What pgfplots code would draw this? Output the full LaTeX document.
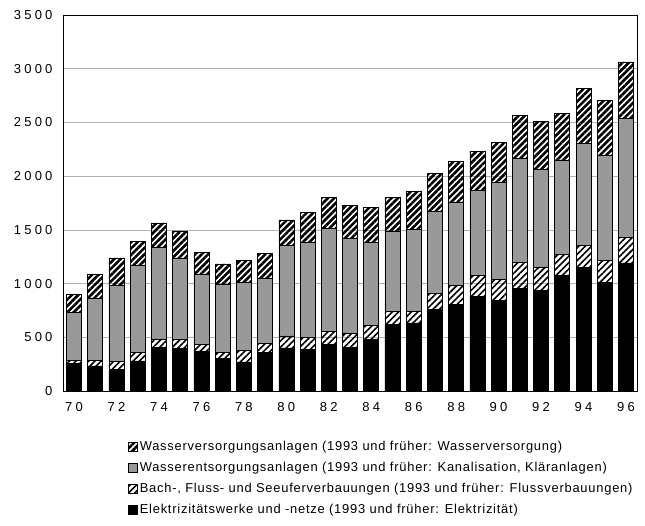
\documentclass[border=0pt]{standalone}
\usepackage{fontspec}
\setmainfont{Liberation Sans}
\newfontfamily\tickfont[LetterSpace=25]{Liberation Sans}
\newfontfamily\legfont[LetterSpace=6]{Liberation Sans}
\usepackage{pgfplots}
\pgfplotsset{compat=1.18}
\usepackage{pgfplotstable}
\usetikzlibrary{patterns.meta}

\pgfplotstableread{
year elek bach ents vers
70 255 30 445 170
71 233 53 581 220
72 202 74 709 254
73 280 83 805 223
74 404 81 851 229
75 401 77 761 252
76 373 62 649 205
77 301 62 628 192
78 270 109 634 201
79 363 78 612 230
80 401 111 845 236
81 385 112 891 271
82 432 124 954 291
83 404 136 879 311
84 478 134 770 326
85 618 124 749 314
86 634 111 758 357
87 758 149 770 351
88 808 177 776 373
89 882 196 786 366
90 845 192 910 367
91 954 242 972 401
92 938 217 910 442
93 1078 192 882 432
94 1149 205 951 512
95 1013 205 978 506
96 1193 236 1105 529
}\data

\begin{document}
\begin{tikzpicture}
\begin{axis}[
  name=ax,
  scale only axis,
  width=574pt, height=376pt,
  ybar stacked,
  bar width=15pt,
  xmin=69.48, xmax=96.52,
  ymin=0, ymax=3500,
  xtick={70,72,...,96},
  ytick={0,500,...,3500},
  ymajorgrids,
  grid style={black!30, line width=0.5pt},
  major tick length=0pt,
  axis line style={line width=0.8pt},
  tick label style={font=\tickfont\fontsize{13}{14}\selectfont},
  /pgf/number format/assume math mode=true,
  /pgf/number format/1000 sep={},
  yticklabel style={xshift=-7pt},
  xticklabel style={yshift=-8pt},
  reverse legend,
  legend cell align=left,
  legend image code/.code={\draw[#1] (0pt,-4pt) rectangle (9pt,5pt);},
  legend style={
    at={(rel axis cs:0,0)}, anchor=north west,
    xshift=65pt, yshift=-49pt,
    draw=none, fill=none, inner sep=0pt,
    font=\legfont\fontsize{12.9}{14}\selectfont,
    row sep=7pt,
    nodes={text height=9pt, text depth=3pt, inner sep=1pt},
    /tikz/every odd column/.style={column sep=1pt},
  },
]
\addplot[draw=black, line width=0.6pt, fill=black] table[x=year, y=elek] {\data};
\addlegendentry{Elektrizitätswerke und -netze (1993 und früher: Elektrizität)}
\addplot[draw=black, line width=0.6pt, pattern={Lines[angle=45, distance=4.5pt, line width=1.6pt]}, pattern color=black] table[x=year, y=bach] {\data};
\addlegendentry{Bach-, Fluss- und Seeuferverbauungen (1993 und früher: Flussverbauungen)}
\addplot[draw=black, line width=0.6pt, fill=black!40] table[x=year, y=ents] {\data};
\addlegendentry{Wasserentsorgungsanlagen (1993 und früher: Kanalisation, Kläranlagen)}
\addplot[draw=black, line width=0.6pt, pattern={Lines[angle=45, distance=4.5pt, line width=2.6pt]}, pattern color=black] table[x=year, y=vers] {\data};
\addlegendentry{Wasserversorgungsanlagen (1993 und früher: Wasserversorgung)}
\end{axis}
\pgfresetboundingbox
\path ([shift={(-63pt,-135pt)}]ax.south west) rectangle ([shift={(8pt,15pt)}]ax.north east);
\end{tikzpicture}
\end{document}
